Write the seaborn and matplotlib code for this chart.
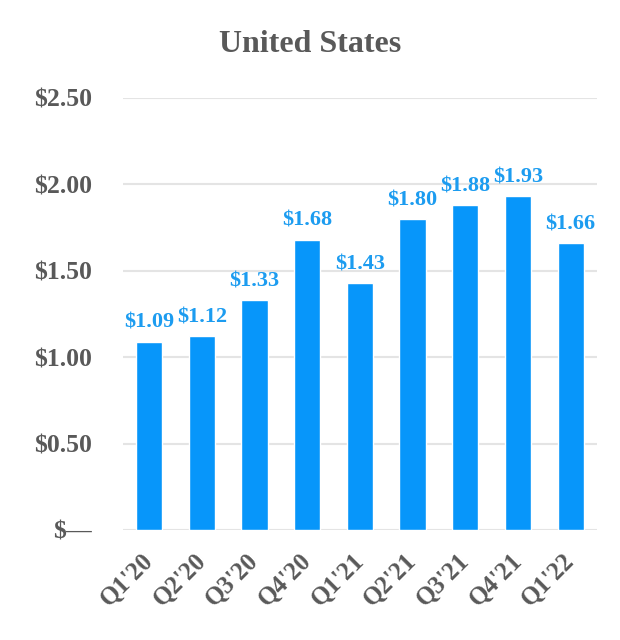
import matplotlib
matplotlib.use("Agg")
import matplotlib.pyplot as plt
import matplotlib.transforms as mtransforms
import seaborn as sns
import pandas as pd

quarters = ["Q1'20", "Q2'20", "Q3'20", "Q4'20", "Q1'21", "Q2'21", "Q3'21", "Q4'21", "Q1'22"]
values = [1.09, 1.12, 1.33, 1.68, 1.43, 1.80, 1.88, 1.93, 1.66]
yticks = [0, 0.5, 1.0, 1.5, 2.0, 2.5]
ytick_labels = ["$\u2014", "$0.50", "$1.00", "$1.50", "$2.00", "$2.50"]
title = "United States"

sns.set_theme(style="white")
plt.rcParams['font.family'] = ['Liberation Serif', 'DejaVu Serif']
plt.rcParams['font.weight'] = 'bold'

bar_color = "#0796fa"
label_color = "#1c9cf0"
grey = "#595959"

df = pd.DataFrame({"quarter": quarters, "value": values})

fig = plt.figure(figsize=(6.2, 6.4), dpi=100)
ax = fig.add_axes([0.198, 0.172, 0.765, 0.675])
sns.barplot(data=df, x="quarter", y="value", color=bar_color, saturation=1,
            width=0.5, ax=ax, zorder=3)

ax.set_ylim(0, 2.5)
ax.set_xlim(-0.5, len(quarters) - 0.5)
ax.set_yticks(yticks)
ax.set_yticklabels(ytick_labels, fontsize=18.5, fontweight='bold', color=grey)
ax.tick_params(axis='y', length=0, pad=22)
ax.set_xticks(range(len(quarters)))
ax.set_xticklabels(quarters, rotation=45, ha='right', rotation_mode='anchor',
                   fontsize=18, fontweight='bold', color=grey)
ax.tick_params(axis='x', length=0, pad=14)
offset = mtransforms.ScaledTranslation(-8 / 100, 0, fig.dpi_scale_trans)
for lbl in ax.get_xticklabels():
    lbl.set_transform(lbl.get_transform() + offset)
ax.set_xlabel("")
ax.set_ylabel("")
ax.grid(axis='y', color="#e4e4e4", linewidth=1.5, zorder=0)
ax.grid(axis='x', visible=False)
for s in ax.spines.values():
    s.set_visible(False)

for i, v in enumerate(values):
    ax.text(i, v + 0.05, f"${v:.2f}", ha='center', va='bottom', fontsize=16,
            fontweight='bold', color=label_color, zorder=4)

fig.text(0.5, 0.93, title, ha='center', va='center', fontsize=23,
         fontweight='bold', color=grey)

fig.savefig("out.png", dpi=100, facecolor="white")
